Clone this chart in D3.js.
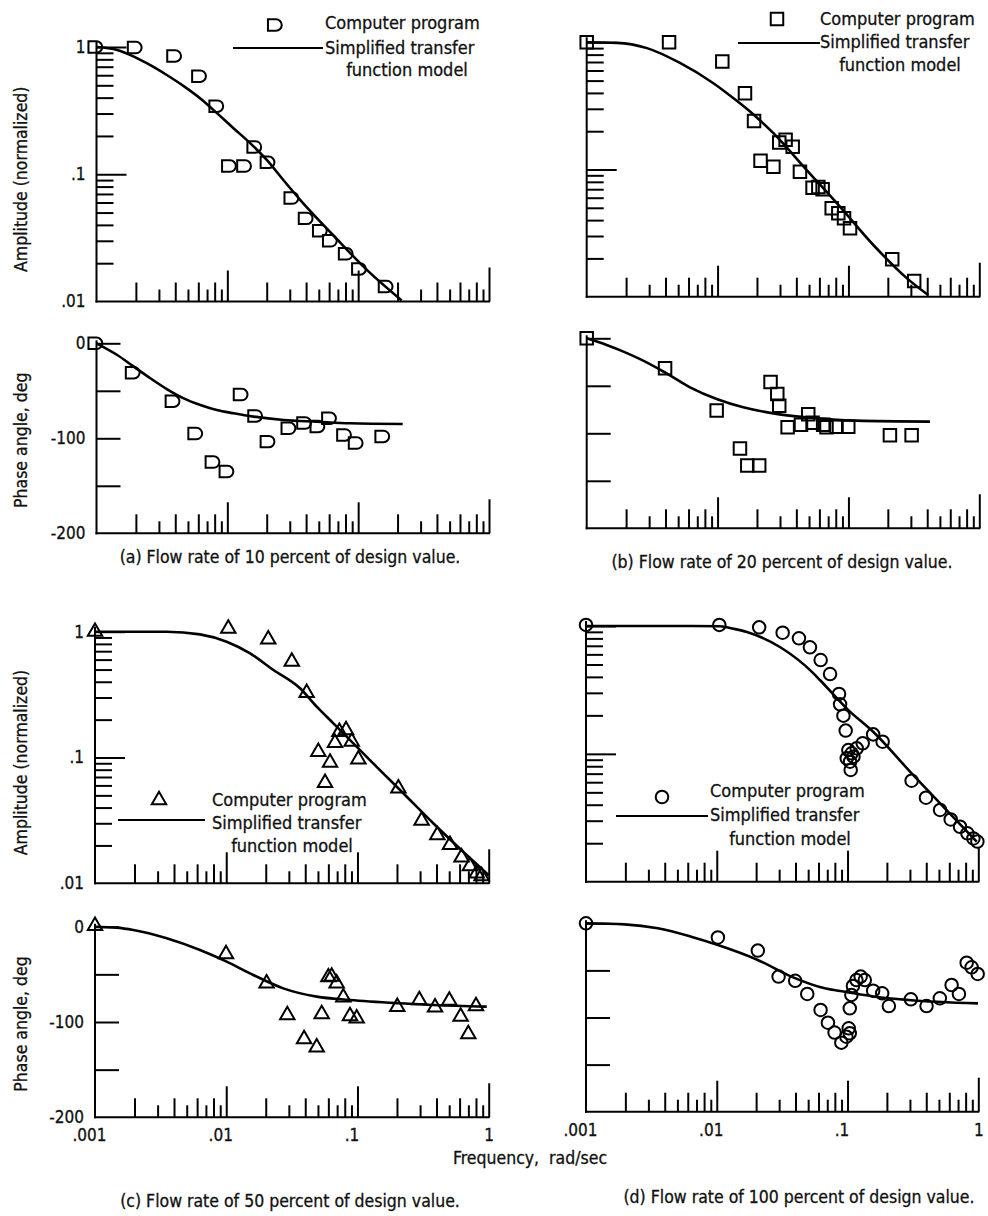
<!DOCTYPE html>
<html>
<head>
<meta charset="utf-8">
<script src="https://cdn.jsdelivr.net/npm/d3@7"></script>
<style>
  body { margin: 0; background: #fff; }
  svg text { font-family: "DejaVu Sans Condensed", "DejaVu Sans", sans-serif; font-stretch: condensed;
    fill: #111; stroke: #111; stroke-width: 0.3; }
</style>
</head>
<body>
<svg id="chart" width="988" height="1216"></svg>
<script>
// tick labels and texts
const freqTicks = [0.001, 0.01, 0.1, 1]
const freqTickLabels = ['.001', '.01', '.1', '1']
const ampTicks = [1, 0.1, 0.01]
const ampTickLabels = ['1', '.1', '.01']
const phaseTicks = [0, -100, -200]
const phaseTickLabels = ['0', '-100', '-200']
const phaseMinorTicks = [0, -50, -100, -150]
const legendLabels = ['Computer program', 'Simplified transfer', 'function model']
const captions = {
  a: '(a) Flow rate of 10 percent of design value.',
  b: '(b) Flow rate of 20 percent of design value.',
  c: '(c) Flow rate of 50 percent of design value.',
  d: '(d) Flow rate of 100 percent of design value.'
}

// (a) 10 percent: [frequency rad/sec, value]
const ampPointsA = [[0.001, 1.0], [0.002, 0.99], [0.004, 0.85], [0.0062, 0.59], [0.0084, 0.343],
  [0.0105, 0.116], [0.0137, 0.116], [0.0164, 0.164], [0.0207, 0.124], [0.0315, 0.065],
  [0.0405, 0.045], [0.052, 0.036], [0.062, 0.030], [0.082, 0.0237], [0.1035, 0.018], [0.1655, 0.0131]]
const ampModelA = [[0.001, 1.0], [0.00144, 0.947], [0.00193, 0.84], [0.00258, 0.72], [0.00347, 0.60],
  [0.00464, 0.493], [0.00622, 0.394], [0.00786, 0.319], [0.0112, 0.229], [0.015, 0.175],
  [0.0201, 0.129], [0.0269, 0.0897], [0.036, 0.063], [0.0648, 0.033], [0.116, 0.0178], [0.215, 0.0102]]
const phasePointsA = [[0.001, 0], [0.00193, -31], [0.00389, -61], [0.0058, -95], [0.00786, -125],
  [0.01005, -135], [0.0129, -54], [0.01665, -76.5], [0.0207, -103.5], [0.0299, -89.5],
  [0.0394, -84], [0.0498, -87.5], [0.0611, -79], [0.0796, -96.5], [0.0977, -105], [0.156, -98]]
const phaseModelA = [[0.001, 0], [0.00144, -12.3], [0.00193, -24.6], [0.00258, -36.8], [0.00347, -48.4],
  [0.00464, -57.9], [0.00622, -64.9], [0.0083, -70.2], [0.0112, -73.7], [0.0159, -77.2],
  [0.0269, -80.7], [0.0482, -82.5], [0.0865, -84.2], [0.219, -84.9]]

// (b) 20 percent
const ampPointsB = [[0.001, 1], [0.00426, 1], [0.01087, 0.705], [0.0162, 0.397], [0.019, 0.241],
  [0.0213, 0.117], [0.0267, 0.105], [0.0296, 0.163], [0.0331, 0.171], [0.0375, 0.151],
  [0.0426, 0.096], [0.0532, 0.072], [0.0589, 0.073], [0.0635, 0.070], [0.0745, 0.0496],
  [0.0837, 0.0453], [0.0925, 0.0413], [0.1028, 0.0345], [0.216, 0.0197], [0.318, 0.0133]]
const ampModelB = [[0.001, 1], [0.0017, 0.99], [0.00289, 0.90], [0.00516, 0.688], [0.00923, 0.479],
  [0.0141, 0.345], [0.0187, 0.272], [0.0267, 0.193], [0.048, 0.099], [0.0861, 0.051],
  [0.155, 0.0255], [0.279, 0.014], [0.407, 0.0103]]
const phasePointsB = [[0.001, 0], [0.00397, -31.6], [0.00984, -76], [0.01483, -116], [0.01687, -134],
  [0.0208, -134], [0.0254, -46], [0.0286, -58.6], [0.0296, -71], [0.0343, -93.7],
  [0.0434, -91], [0.0493, -80], [0.0532, -89], [0.0641, -91], [0.068, -93.7],
  [0.0811, -93], [0.0997, -93], [0.2075, -102], [0.304, -102]]
const phaseModelB = [[0.001, 0], [0.00142, -7], [0.00191, -14], [0.00256, -22], [0.00397, -36],
  [0.00616, -51.6], [0.00984, -63.9], [0.0157, -72.6], [0.0267, -79], [0.048, -83.2],
  [0.1155, -86.7], [0.42, -87.7]]

// (c) 50 percent
const ampPointsC = [[0.001, 1.0], [0.01037, 1.06], [0.0209, 0.869], [0.0316, 0.578], [0.041, 0.327],
  [0.0503, 0.111], [0.0566, 0.063], [0.0618, 0.091], [0.0674, 0.131], [0.0728, 0.16],
  [0.0818, 0.1655], [0.0904, 0.1336], [0.1016, 0.0967], [0.205, 0.0569], [0.308, 0.0315],
  [0.406, 0.0242], [0.507, 0.0202], [0.621, 0.0161], [0.719, 0.0137], [0.809, 0.012], [0.883, 0.0114]]
const ampModelC = [[0.001, 1], [0.00352, 1], [0.00631, 0.952], [0.01007, 0.833], [0.0152, 0.673],
  [0.0229, 0.496], [0.0365, 0.355], [0.0489, 0.2535], [0.0655, 0.187], [0.1016, 0.118],
  [0.157, 0.0748], [0.211, 0.0552], [0.378, 0.030], [0.679, 0.0168], [1.0, 0.0116]]
const phasePointsC = [[0.001, 1], [0.00996, -28.7], [0.0203, -59.4], [0.0292, -92.7], [0.0392, -118],
  [0.0489, -126.6], [0.0534, -91.6], [0.06, -53], [0.0636, -52.4], [0.0694, -59.4],
  [0.078, -74], [0.0877, -93.7], [0.0986, -96.2], [0.201, -84], [0.296, -77],
  [0.39, -84.6], [0.501, -77.6], [0.611, -94.4], [0.699, -112.6], [0.8, -83.2]]
const phaseModelC = [[0.001, 0], [0.00146, -1], [0.00196, -3.5], [0.00352, -12.2], [0.00631, -24.5],
  [0.01007, -36.7], [0.0161, -50.7], [0.0272, -64.7], [0.0489, -73.4], [0.0877, -76.9],
  [0.211, -80.4], [0.378, -82.2], [0.966, -83.9]]

// (d) 100 percent
const ampPointsD = [[0.001, 1.02], [0.01046, 1.02], [0.0211, 0.976], [0.0319, 0.887], [0.0425, 0.801],
  [0.0516, 0.681], [0.0623, 0.542], [0.0735, 0.421], [0.0861, 0.294], [0.0877, 0.244],
  [0.093, 0.199], [0.0968, 0.152], [0.0986, 0.0922], [0.1014, 0.107], [0.1045, 0.0868],
  [0.1057, 0.0748], [0.1075, 0.101], [0.111, 0.095], [0.1175, 0.1104], [0.1306, 0.121],
  [0.157, 0.142], [0.1855, 0.1245], [0.309, 0.0617], [0.398, 0.0454], [0.51, 0.0364],
  [0.615, 0.0307], [0.725, 0.0269], [0.825, 0.0239], [0.917, 0.0218], [0.984, 0.0206]]
const ampModelD = [[0.001, 1], [0.005, 1], [0.0106, 0.995], [0.0135, 0.95], [0.017, 0.898],
  [0.0304, 0.685], [0.0544, 0.43], [0.0615, 0.378], [0.1014, 0.22], [0.157, 0.149],
  [0.309, 0.0704], [0.51, 0.041], [0.972, 0.0206]]
const phasePointsD = [[0.001, 0], [0.0102, -15], [0.0206, -29], [0.0297, -56.6], [0.0398, -61],
  [0.0492, -75], [0.0622, -92], [0.0708, -105.5], [0.0796, -116], [0.0897, -126.7],
  [0.098, -120.4], [0.1021, -111.5], [0.104, -116.8], [0.104, -90.3], [0.107, -76],
  [0.110, -66.5], [0.117, -60.2], [0.126, -56.6], [0.1355, -60.2], [0.157, -71.5],
  [0.184, -74.3], [0.207, -87.8], [0.305, -80.7], [0.402, -87.8], [0.508, -79.6],
  [0.625, -65.5], [0.711, -75], [0.815, -41.8], [0.889, -46.7], [0.989, -53.8]]
const phaseModelD = [[0.001, 0], [0.00197, -1.1], [0.00354, -5.3], [0.00637, -14.2], [0.0102, -23],
  [0.0206, -38.9], [0.0372, -56.6], [0.0669, -69], [0.0952, -72.6], [0.162, -77.9],
  [0.291, -81.4], [0.995, -85]]

// D shaped marker of panel (a)
const symbolD = {
  draw(context, size) {
    const r = Math.sqrt(size) / 2
    context.moveTo(-1.4 * r, -r)
    context.lineTo(0, -r)
    context.arc(0, 0, r, -Math.PI / 2, Math.PI / 2)
    context.lineTo(-1.4 * r, r)
    context.closePath()
  }
}

// panel frames, legends and captions
const panels = [
  {key: 'a', x0: 96.5, x1: 489, ampTop: 47, ampBot: 301.5, phTop: 343.3, phBot: 533.3,
    yLabels: true, xLabels: false, sym: symbolD, size: 132,
    amp: ampPointsA, ampModel: ampModelA, phase: phasePointsA, phaseModel: phaseModelA,
    legend: {mx: 276, my: 25, tx: 325, base: [29, 54, 76], cx: 407, lx0: 233, lx1: 323, ly: 48},
    cap: {x: 290, y: 563}},
  {key: 'b', x0: 586.7, x1: 979.3, ampTop: 42.3, ampBot: 296.7, phTop: 338.3, phBot: 528.3,
    yLabels: false, xLabels: false, sym: d3.symbolSquare, size: 156,
    amp: ampPointsB, ampModel: ampModelB, phase: phasePointsB, phaseModel: phaseModelB,
    legend: {mx: 777, my: 19, tx: 820, base: [25, 48, 71], cx: 900, lx0: 738, lx1: 820, ly: 43},
    cap: {x: 782, y: 568}},
  {key: 'c', x0: 95, x1: 488.7, ampTop: 631.7, ampBot: 883.3, phTop: 926.7, phBot: 1117.3,
    yLabels: true, xLabels: true, sym: d3.symbolTriangle, size: 90,
    amp: ampPointsC, ampModel: ampModelC, phase: phasePointsC, phaseModel: phaseModelC,
    legend: {mx: 159, my: 800, tx: 212, base: [806, 829, 852], cx: 292, lx0: 118, lx1: 205, ly: 820},
    cap: {x: 290, y: 1207}},
  {key: 'd', x0: 586, x1: 978.3, ampTop: 626, ampBot: 881.7, phTop: 923.3, phBot: 1111.7,
    yLabels: false, xLabels: true, sym: d3.symbolCircle, size: 123,
    amp: ampPointsD, ampModel: ampModelD, phase: phasePointsD, phaseModel: phaseModelD,
    legend: {mx: 662, my: 797, tx: 710, base: [797, 821, 845], cx: 790, lx0: 616, lx1: 708, ly: 816},
    cap: {x: 799, y: 1203}}
]

const svg = d3.select('#chart')
svg.append('rect').attr('width', 988).attr('height', 1216).attr('fill', '#fff')

// split the scale's own log ticks (1..9 per decade) by length class
function logTicks(scale) {
  const isDecade = d => Math.abs(Math.log10(d) - Math.round(Math.log10(d))) < 1e-9
  const mant = d => Math.round(d / Math.pow(10, Math.floor(Math.log10(d) + 1e-9)))
  const all = scale.ticks()
  return {
    decade: all.filter(isDecade),
    even: all.filter(d => !isDecade(d) && mant(d) % 2 === 0),
    odd: all.filter(d => !isDecade(d) && mant(d) % 2 === 1)
  }
}

function styleAxis(sel) {
  sel.select('.domain').remove()
  sel.selectAll('line').attr('stroke', '#000').attr('stroke-width', 2)
}

function freqAxis(g, x, yBase, x0) {
  const t = logTicks(x)
  const groups = [[t.odd, 12], [t.even, 19], [t.decade.filter(d => d > 0.001 && d < 1), 31], [[1], 34]]
  groups.forEach(([vals, len]) => {
    g.append('g').attr('transform', `translate(0,${yBase})`)
      .call(d3.axisTop(x).tickValues(vals).tickSize(len).tickFormat(''))
      .call(styleAxis)
  })
  g.append('line').attr('x1', x0 - 1).attr('x2', x.range()[1] + 1)
    .attr('y1', yBase).attr('y2', yBase).attr('stroke', '#000').attr('stroke-width', 2)
}

function yLine(g, x0, top, bot) {
  g.append('line').attr('x1', x0).attr('x2', x0).attr('y1', top).attr('y2', bot + 1)
    .attr('stroke', '#000').attr('stroke-width', 2)
}

function drawMarks(g, x, y, p, points, model) {
  const line = d3.line().x(d => x(d[0])).y(d => y(d[1])).curve(d3.curveMonotoneX)
  g.append('path').datum(model)
    .attr('fill', 'none').attr('stroke', '#000').attr('stroke-width', 2.6)
    .attr('stroke-linejoin', 'round').attr('d', line)
  g.selectAll(null).data(points).join('path')
    .attr('transform', d => `translate(${x(d[0])},${y(d[1])})`)
    .attr('d', d3.symbol().type(p.sym).size(p.size))
    .attr('fill', 'none').attr('stroke', '#000').attr('stroke-width', 2)
}

panels.forEach(p => {
  const g = svg.append('g')
  const x = d3.scaleLog().domain([0.001, 1]).range([p.x0, p.x1])
  const yAmp = d3.scaleLog().domain([0.01, 1]).range([p.ampBot, p.ampTop])
  const yPh = d3.scaleLinear().domain([-200, 0]).range([p.phBot, p.phTop])

  // amplitude frame
  const ty = logTicks(yAmp)
  g.append('g').attr('transform', `translate(${p.x0},0)`)
    .call(d3.axisRight(yAmp).tickValues(ty.even.concat(ty.odd)).tickSize(17).tickFormat(''))
    .call(styleAxis)
  g.append('g').attr('transform', `translate(${p.x0},0)`)
    .call(d3.axisRight(yAmp).tickValues(ty.decade.filter(d => d > 0.01)).tickSize(30).tickFormat(''))
    .call(styleAxis)
  yLine(g, p.x0, p.ampTop - 5, p.ampBot)
  freqAxis(g, x, p.ampBot, p.x0)

  // phase frame
  g.append('g').attr('transform', `translate(${p.x0},0)`)
    .call(d3.axisRight(yPh).tickValues(phaseMinorTicks).tickSize(24).tickFormat(''))
    .call(styleAxis)
  yLine(g, p.x0, p.phTop - 3, p.phBot)
  freqAxis(g, x, p.phBot, p.x0)

  if (p.yLabels) {
    const ax1 = g.append('g').attr('transform', `translate(${p.x0},0)`)
      .call(d3.axisLeft(yAmp).tickValues(ampTicks).tickSize(0).tickPadding(11)
        .tickFormat((d, i) => ampTickLabels[i]))
    const ax2 = g.append('g').attr('transform', `translate(${p.x0},0)`)
      .call(d3.axisLeft(yPh).tickValues(phaseTicks).tickSize(0).tickPadding(11)
        .tickFormat((d, i) => phaseTickLabels[i]))
    ;[ax1, ax2].forEach(a => {
      a.select('.domain').remove()
      a.selectAll('text').attr('font-size', 17).attr('font-family', null)
    })
  }
  if (p.xLabels) {
    const ax = g.append('g').attr('transform', `translate(0,${p.phBot})`)
      .call(d3.axisBottom(x).tickValues(freqTicks).tickSize(0).tickPadding(12)
        .tickFormat((d, i) => freqTickLabels[i]))
    ax.select('.domain').remove()
    ax.selectAll('text').attr('font-size', 17).attr('font-family', null)
      .attr('dx', (d, i) => freqTickLabels[i].startsWith('.') ? -6 : 0)
  }

  drawMarks(g, x, yAmp, p, p.amp, p.ampModel)
  drawMarks(g, x, yPh, p, p.phase, p.phaseModel)

  // legend
  const L = p.legend
  g.append('path').attr('transform', `translate(${L.mx},${L.my})`)
    .attr('d', d3.symbol().type(p.sym).size(p.size))
    .attr('fill', 'none').attr('stroke', '#000').attr('stroke-width', 2)
  g.append('line').attr('x1', L.lx0).attr('x2', L.lx1).attr('y1', L.ly).attr('y2', L.ly)
    .attr('stroke', '#000').attr('stroke-width', 2)
  legendLabels.forEach((t, i) => {
    g.append('text').attr('x', i < 2 ? L.tx : L.cx).attr('y', L.base[i])
      .attr('text-anchor', i < 2 ? 'start' : 'middle')
      .attr('font-size', 18).text(t)
  })

  g.append('text').attr('x', p.cap.x).attr('y', p.cap.y)
    .attr('text-anchor', 'middle').attr('font-size', 17.5).text(captions[p.key])

  if (p.yLabels) {
    g.append('text').attr('transform', `translate(21,${(p.ampTop + p.ampBot) / 2 + 5}) rotate(-90)`)
      .attr('text-anchor', 'middle').attr('dy', '0.35em').attr('font-size', 17.5)
      .text('Amplitude (normalized)')
    g.append('text').attr('transform', `translate(21,${(p.phTop + p.phBot) / 2 + 2}) rotate(-90)`)
      .attr('text-anchor', 'middle').attr('dy', '0.35em').attr('font-size', 17.5)
      .text('Phase angle,  deg')
  }
})

svg.append('text').attr('x', 530).attr('y', 1164).attr('text-anchor', 'middle')
  .attr('font-size', 17.5).attr('xml:space', 'preserve').text('Frequency,  rad/sec')
</script>
</body>
</html>
